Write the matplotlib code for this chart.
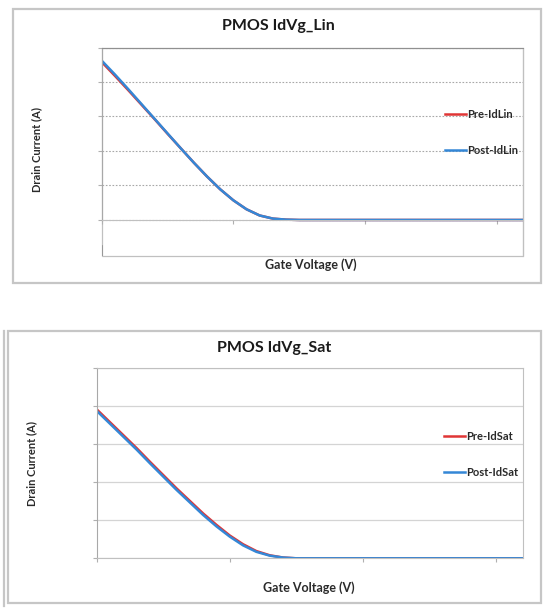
import numpy as np
import matplotlib
matplotlib.use("Agg")
import matplotlib.pyplot as plt
from matplotlib.patches import Rectangle

plt.rcParams['font.family'] = ['Lato', 'DejaVu Sans']

# gate voltage sweep (arbitrary units)
vg = [0.0, 0.1, 0.2, 0.3, 0.4, 0.5, 0.6, 0.7, 0.8, 0.9, 1.0, 1.1, 1.2, 1.3,
      1.4, 1.5, 1.6, 1.8, 2.0, 2.2, 2.4, 2.6, 2.8, 3.0, 3.2]

# PMOS IdVg_Lin
pre_idlin = [4.58, 4.18, 3.77, 3.35, 2.93, 2.50, 2.08, 1.66, 1.26, 0.89, 0.57,
             0.31, 0.13, 0.04, 0.01, 0.0, 0.0, 0.0, 0.0, 0.0, 0.0, 0.0, 0.0, 0.0, 0.0]
post_idlin = [4.62, 4.22, 3.80, 3.37, 2.94, 2.51, 2.08, 1.66, 1.26, 0.89, 0.57,
              0.31, 0.13, 0.04, 0.01, 0.0, 0.0, 0.0, 0.0, 0.0, 0.0, 0.0, 0.0, 0.0, 0.0]

# PMOS IdVg_Sat
pre_idsat = [3.92, 3.58, 3.24, 2.90, 2.54, 2.19, 1.84, 1.51, 1.18, 0.88, 0.60,
             0.37, 0.19, 0.08, 0.02, 0.0, 0.0, 0.0, 0.0, 0.0, 0.0, 0.0, 0.0, 0.0, 0.0]
post_idsat = [3.88, 3.54, 3.20, 2.86, 2.50, 2.15, 1.80, 1.47, 1.14, 0.84, 0.57,
              0.34, 0.17, 0.07, 0.02, 0.0, 0.0, 0.0, 0.0, 0.0, 0.0, 0.0, 0.0, 0.0, 0.0]

RED = '#e03535'
BLUE = '#3487d6'
W, H = 545.0, 612.0

fig = plt.figure(figsize=(5.45, 6.12), dpi=100)


def fx(px):
    return px / W


def fy(py):
    return 1 - py / H


def frame(x0, y0, x1, y1):
    fig.add_artist(Rectangle((fx(x0), fy(y1)), fx(x1) - fx(x0), fy(y0) - fy(y1),
                             transform=fig.transFigure, fill=False,
                             ec='#c6c6c6', lw=1.6))


def panel(rect, pre, post, labels, title, tpos, ylpos, xlpos, leg, ylo, dotted):
    ax = fig.add_axes(rect)
    ax.plot(vg, pre, color=RED, lw=1.8, label=labels[0])
    ax.plot(vg, post, color=BLUE, lw=1.8, label=labels[1])
    ax.set_xlim(0, 3.2)
    ax.set_ylim(ylo, 5)
    ax.set_xticks([0, 1, 2, 3])
    ax.set_yticks([0, 1, 2, 3, 4, 5])
    ax.set_xticklabels([])
    ax.set_yticklabels([])
    ax.tick_params(length=3, width=0.8, color='#b0b0b0', direction='out')
    if dotted:
        ax.grid(axis='y', color='#a8a8a8', lw=0.8, ls=(0, (1.5, 1.5)))
    else:
        ax.grid(axis='y', color='#d4d4d4', lw=0.9)
    ax.set_axisbelow(True)
    for s in ['top', 'right', 'bottom']:
        ax.spines[s].set_color('#c0c0c0')
    ax.spines['top'].set_color('#909090' if dotted else '#c0c0c0')
    ax.spines['left'].set_color('#a8a8a8')
    if ylo < 0:
        # horizontal axis crosses at zero, plot-area border below
        ax.spines['bottom'].set_position(('data', 0))
        ax.spines['left'].set_bounds(0, 5)
        ax.add_patch(Rectangle((0, 0), 1, 1, transform=ax.transAxes, fill=False,
                               ec='#c0c0c0', lw=0.9, clip_on=False, zorder=0))
        ax.axvline(0, ymin=0, ymax=0.045, color='#909090', lw=1.2)
    ax.legend(loc='upper left', bbox_to_anchor=(fx(leg[0]), fy(leg[1])),
              bbox_transform=fig.transFigure, frameon=False, borderpad=0,
              borderaxespad=0, handlelength=1.9, handletextpad=0.1,
              labelspacing=2.25, prop={'size': 8, 'weight': 'bold'},
              labelcolor='#2a2a2a')
    fig.text(fx(tpos[0]), fy(tpos[1]), title, ha='center', va='center',
             fontsize=11.5, fontweight='bold', color='#1a1a1a')
    fig.text(fx(ylpos[0]), fy(ylpos[1]), 'Drain Current (A)', rotation=90,
             ha='center', va='center', fontsize=8, fontweight='bold',
             color='#2a2a2a')
    fig.text(fx(xlpos[0]), fy(xlpos[1]), 'Gate Voltage (V)', ha='center',
             va='center', fontsize=9, fontweight='bold', color='#2a2a2a')
    return ax


frame(12.5, 9, 541, 283)
frame(8.3, 331, 541, 603)
fig.add_artist(plt.Line2D([fx(3.5), fx(3.5)], [fy(331), fy(606)],
                          transform=fig.transFigure, color='#c6c6c6', lw=1.6))

panel([fx(101.7), fy(255.5), fx(523) - fx(101.7), fy(47.5) - fy(255.5)],
      pre_idlin, post_idlin, ['Pre-IdLin', 'Post-IdLin'], 'PMOS IdVg_Lin',
      (278, 26), (36.5, 150), (311, 265), (445, 108.5), -1.03, True)

panel([fx(96.7), fy(558.3), fx(522.5) - fx(96.7), fy(368.3) - fy(558.3)],
      pre_idsat, post_idsat, ['Pre-IdSat', 'Post-IdSat'], 'PMOS IdVg_Sat',
      (274.6, 347.7), (31.7, 463), (309, 588), (443.5, 430.5), 0, False)

fig.savefig('out.png', dpi=100)
